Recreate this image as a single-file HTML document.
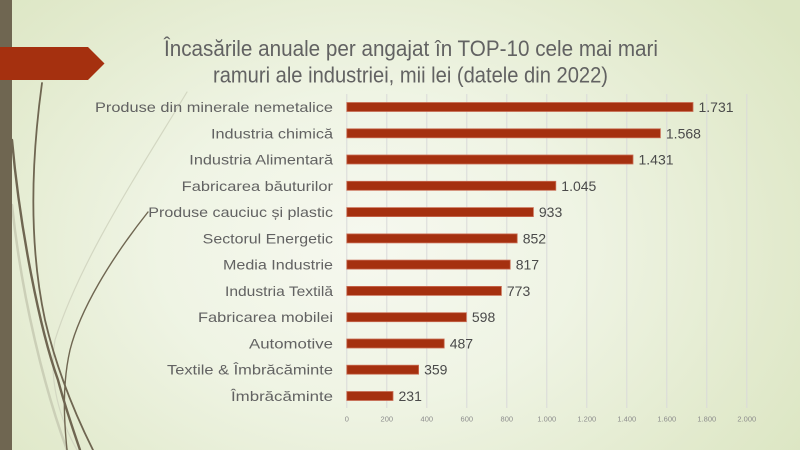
<!DOCTYPE html>
<html><head><meta charset="utf-8"><style>
html,body{margin:0;padding:0;}
body{width:800px;height:450px;overflow:hidden;background:radial-gradient(ellipse 65% 85% at 46% 55%, #f6f8ef 0%, #eff4e4 40%, #e2eacd 80%, #dce6c3 100%);}
svg{display:block;}
text{font-family:"Liberation Sans",sans-serif;}
</style></head><body>
<svg width="800" height="450" viewBox="0 0 800 450" xmlns="http://www.w3.org/2000/svg">
<!-- decorative curves -->
<g fill="none" stroke-linecap="round">
<path d="M187,92 C140,170 80,260 55,340 C48,380 60,420 77,450" stroke="#d3d7c2" stroke-width="1.2"/>
<path d="M12,205 C22,300 45,390 67,450" stroke="#cbcfb7" stroke-width="2.5"/>
<path d="M42,83 C30,170 30,250 45,320 C58,375 78,420 93,450" stroke="#6f6651" stroke-width="1.8"/>
<path d="M12,140 C20,230 40,330 58,380 C66,410 74,432 80,450" stroke="#6f6651" stroke-width="2.4"/>
<path d="M148,212 C110,260 80,310 70,350 C62,385 64,420 67,450" stroke="#6f6651" stroke-width="1.4"/>
</g>
<!-- left bar and banner -->
<rect x="0" y="0" width="12" height="450" fill="#6f6651"/>
<polygon points="0,47 88,47 104.5,63.5 88,80 0,80" fill="#a5300f"/>
<!-- title -->
<text x="411" y="56" text-anchor="middle" font-size="22" fill="#626262" textLength="494" lengthAdjust="spacingAndGlyphs">Încasările anuale per angajat în TOP-10 cele mai mari</text>
<text x="410.5" y="82.5" text-anchor="middle" font-size="22" fill="#626262" textLength="395" lengthAdjust="spacingAndGlyphs">ramuri ale industriei, mii lei (datele din 2022)</text>
<!-- gridlines -->
<g stroke="#d9d9d9" stroke-width="1">
<line x1="346.8" y1="94" x2="346.8" y2="408"/>
<line x1="386.8" y1="94" x2="386.8" y2="408"/>
<line x1="426.8" y1="94" x2="426.8" y2="408"/>
<line x1="466.8" y1="94" x2="466.8" y2="408"/>
<line x1="506.8" y1="94" x2="506.8" y2="408"/>
<line x1="546.8" y1="94" x2="546.8" y2="408"/>
<line x1="586.8" y1="94" x2="586.8" y2="408"/>
<line x1="626.8" y1="94" x2="626.8" y2="408"/>
<line x1="666.8" y1="94" x2="666.8" y2="408"/>
<line x1="706.8" y1="94" x2="706.8" y2="408"/>
<line x1="746.8" y1="94" x2="746.8" y2="408"/>
</g>
<!-- tick labels -->
<g font-size="7.5" fill="#8c8c8c" text-anchor="middle">
<text x="346.8" y="421.5">0</text>
<text x="386.8" y="421.5">200</text>
<text x="426.8" y="421.5">400</text>
<text x="466.8" y="421.5">600</text>
<text x="506.8" y="421.5">800</text>
<text x="546.8" y="421.5">1.000</text>
<text x="586.8" y="421.5">1.200</text>
<text x="626.8" y="421.5">1.400</text>
<text x="666.8" y="421.5">1.600</text>
<text x="706.8" y="421.5">1.800</text>
<text x="746.8" y="421.5">2.000</text>
</g>
<!-- bars -->
<g fill="#a5300f" stroke="#c96d54" stroke-width="0.8">
<rect x="346.8" y="102.5" width="346.2" height="9"/>
<rect x="346.8" y="128.8" width="313.6" height="9"/>
<rect x="346.8" y="155.0" width="286.2" height="9"/>
<rect x="346.8" y="181.3" width="209.0" height="9"/>
<rect x="346.8" y="207.6" width="186.6" height="9"/>
<rect x="346.8" y="233.9" width="170.4" height="9"/>
<rect x="346.8" y="260.1" width="163.4" height="9"/>
<rect x="346.8" y="286.4" width="154.6" height="9"/>
<rect x="346.8" y="312.7" width="119.6" height="9"/>
<rect x="346.8" y="339.0" width="97.4" height="9"/>
<rect x="346.8" y="365.2" width="71.8" height="9"/>
<rect x="346.8" y="391.5" width="46.2" height="9"/>
</g>
<!-- category labels -->
<g font-size="14" fill="#626262" text-anchor="end">
<text x="333" y="112" textLength="238" lengthAdjust="spacingAndGlyphs">Produse din minerale nemetalice</text>
<text x="333" y="138.3" textLength="122" lengthAdjust="spacingAndGlyphs">Industria chimică</text>
<text x="333" y="164.5" textLength="143.7" lengthAdjust="spacingAndGlyphs">Industria Alimentară</text>
<text x="333" y="190.8" textLength="151.3" lengthAdjust="spacingAndGlyphs">Fabricarea băuturilor</text>
<text x="333" y="217.1" textLength="184.7" lengthAdjust="spacingAndGlyphs">Produse cauciuc și plastic</text>
<text x="333" y="243.4" textLength="130.3" lengthAdjust="spacingAndGlyphs">Sectorul Energetic</text>
<text x="333" y="269.6" textLength="110" lengthAdjust="spacingAndGlyphs">Media Industrie</text>
<text x="333" y="295.9" textLength="108" lengthAdjust="spacingAndGlyphs">Industria Textilă</text>
<text x="333" y="322.2" textLength="135" lengthAdjust="spacingAndGlyphs">Fabricarea mobilei</text>
<text x="333" y="348.5" textLength="84" lengthAdjust="spacingAndGlyphs">Automotive</text>
<text x="333" y="374.7" textLength="166" lengthAdjust="spacingAndGlyphs">Textile &amp; Îmbrăcăminte</text>
<text x="333" y="401" textLength="102" lengthAdjust="spacingAndGlyphs">Îmbrăcăminte</text>
</g>
<!-- value labels -->
<g font-size="14" fill="#4a4a4a">
<text x="698.5" y="112">1.731</text>
<text x="665.9" y="138.3">1.568</text>
<text x="638.5" y="164.5">1.431</text>
<text x="561.3" y="190.8">1.045</text>
<text x="538.9" y="217.1">933</text>
<text x="522.7" y="243.4">852</text>
<text x="515.7" y="269.6">817</text>
<text x="506.9" y="295.9">773</text>
<text x="471.9" y="322.2">598</text>
<text x="449.7" y="348.5">487</text>
<text x="424.1" y="374.7">359</text>
<text x="398.5" y="401">231</text>
</g>
</svg>
</body></html>
